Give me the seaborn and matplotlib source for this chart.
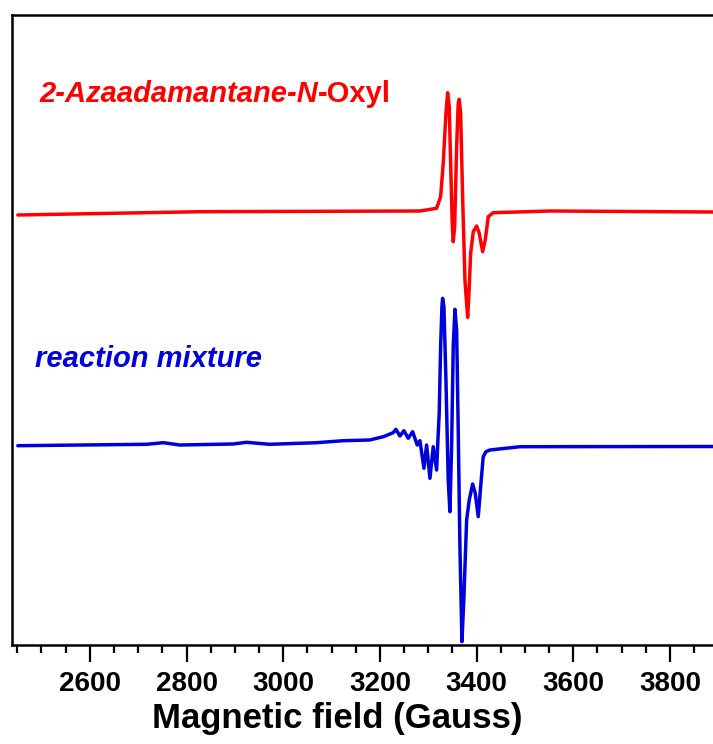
import matplotlib
matplotlib.use("Agg")
import matplotlib.pyplot as plt
from matplotlib.ticker import MultipleLocator
import seaborn as sns

# Magnetic field (Gauss) and signal (arbitrary units, offset traces)
red_field = [2451, 2828, 3283, 3317.3, 3325.6, 3331.0, 3336.6, 3340.1, 3343.4,
             3346.3, 3349.6, 3351.7, 3354.6, 3358.7, 3362.0, 3364.1, 3367.0,
             3371.1, 3375.9, 3381.5, 3384.2, 3387.7, 3393.1, 3400.1, 3405.5,
             3412.5, 3417.9, 3424.1, 3434.4, 3552, 3889]
red_signal = [430, 433.3, 434, 436.7, 448.3, 481.7, 531.7, 552.3, 538.3,
              481.7, 421.7, 403.3, 418.3, 498.3, 541.7, 545.7, 531.7,
              448.3, 365, 327.7, 351.7, 391.7, 413.3, 419, 411.7,
              393.3, 405, 428.3, 432.3, 434, 433]

blue_field = [2451, 2717, 2752, 2786, 2896, 2924, 2972, 3069, 3124, 3179,
              3207, 3227.5, 3233, 3241.4, 3249.7, 3258.6, 3267.7, 3277.2, 3282.8,
              3291.1, 3296.6, 3303.5, 3310.3, 3317.3, 3320.0, 3322.7, 3325.6,
              3328.3, 3329.7, 3332.4, 3336.6, 3341.3, 3344.8, 3348.3, 3351.7,
              3355.2, 3358.7, 3362.0, 3365.5, 3369.7, 3373.8, 3379.4, 3384.8,
              3391.8, 3397.2, 3403.4, 3408.4, 3413.7, 3419.3, 3427.6, 3490, 3889]
blue_signal = [199.3, 200.7, 202.3, 200, 201, 202.7, 200.7, 202.3, 204.3, 205,
               208.3, 212.3, 215.7, 209, 214.3, 206.7, 213.3, 200, 204.3,
               176.7, 200, 166.7, 198.3, 175, 205, 231.7, 298.3,
               338.3, 346.7, 338.3, 265, 165, 133.3, 198.3, 298.3,
               335.7, 315, 215, 98.3, 3.3, 48.3, 125, 145,
               161, 151.7, 128.3, 158.3, 188.3, 193.3, 195, 198.3, 198.5]

red_label = ["2-Azaadamantane-N", "-Oxyl"]
blue_label = "reaction mixture"
xlabel = "Magnetic field (Gauss)"
major_ticks = [2600, 2800, 3000, 3200, 3400, 3600, 3800]

sns.set_theme(style="white")
plt.rcParams["font.family"] = ["Liberation Sans", "DejaVu Sans"]
plt.rcParams["text.color"] = "black"
plt.rcParams["axes.labelcolor"] = "black"
plt.rcParams["xtick.color"] = "black"

W, H = 713, 744
fig = plt.figure(figsize=(W / 100, H / 100), dpi=100)
ax = fig.add_axes([12 / W, 1 - 645 / H, 1 - 12 / W, (645 - 15) / H])

sns.lineplot(x=red_field, y=red_signal, ax=ax, color="#ff0000", lw=2.5,
             estimator=None, sort=False)
sns.lineplot(x=blue_field, y=blue_signal, ax=ax, color="#0000dd", lw=2.5,
             estimator=None, sort=False)
for ln in ax.lines:
    ln.set_solid_joinstyle("round")

ax.set_xlim(2439, 3889)
ax.set_ylim(0, 630)
ax.set_yticks([])
ax.set_xticks(major_ticks)
ax.set_xticklabels([str(t) for t in major_ticks], fontsize=20, fontweight="bold",
                   color="black")
ax.xaxis.set_minor_locator(MultipleLocator(50))
ax.tick_params(axis="x", which="major", direction="out", length=12, width=1.6,
               color="black", pad=7, bottom=True)
ax.tick_params(axis="x", which="minor", direction="out", length=6, width=1.6,
               color="black", bottom=True)
ax.set_xlabel(xlabel, fontsize=25, fontweight="bold", color="black")
ax.xaxis.set_label_coords((337 - 12) / 701, -(702 - 645) / 630)

for side in ["left", "top", "bottom"]:
    ax.spines[side].set_visible(True)
    ax.spines[side].set_color("black")
    ax.spines[side].set_linewidth(1.8)
ax.spines["right"].set_visible(False)

t1 = fig.text(39 / W, 1 - 102 / H, red_label[0], color="#ff0000", fontsize=21,
              fontweight="bold", fontstyle="italic", va="baseline", ha="left")
ax.annotate(red_label[1], xy=(1, 0), xycoords=t1, color="#ff0000", fontsize=21,
            fontweight="bold", va="bottom", ha="left")
fig.text(35 / W, 1 - 367 / H, blue_label, color="#0000dd", fontsize=21,
         fontweight="bold", fontstyle="italic", va="baseline", ha="left")

fig.savefig("out.png", dpi=100)
